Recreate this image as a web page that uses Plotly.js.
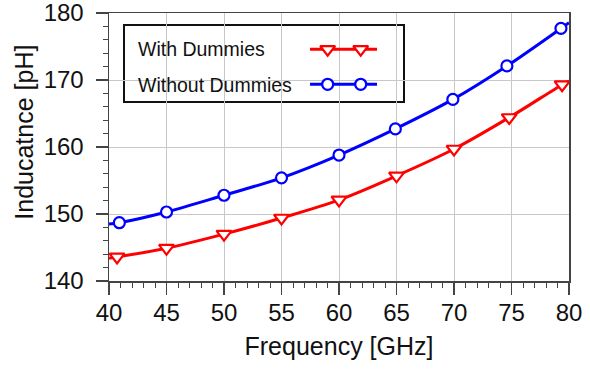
<!DOCTYPE html>
<html>
<head>
<meta charset="utf-8">
<script src="https://cdn.plot.ly/plotly-3.0.1.min.js"></script>
<style>html,body{margin:0;padding:0;background:#fff;}#chart{width:590px;height:370px;}</style>
</head>
<body>
<div id="chart"></div>
<script>
// Curve samples (GHz, pH)
const freqWith = [40, 40.7, 45, 50, 55, 60, 65, 70, 74.8, 79.4, 80];
const indWith = [143.4, 143.6, 144.9, 147.0, 149.4, 152.1, 155.7, 159.7, 164.4, 169.3, 169.85];
const freqWithout = [40, 40.9, 45, 50, 55, 60, 64.9, 69.9, 74.6, 79.3, 80];
const indWithout = [148.5, 148.7, 150.3, 152.8, 155.4, 158.8, 162.7, 167.1, 172.1, 177.7, 178.55];
// Marker positions (subset of the curve samples)
const markFreqWith = [40.7, 45, 50, 55, 60, 65, 70, 74.8, 79.4];
const markIndWith = [143.6, 144.9, 147.0, 149.4, 152.1, 155.7, 159.7, 164.4, 169.3];
const markFreqWithout = [40.9, 45, 50, 55, 60, 64.9, 69.9, 74.6, 79.3];
const markIndWithout = [148.7, 150.3, 152.8, 155.4, 158.8, 162.7, 167.1, 172.1, 177.7];
const seriesNames = ["With Dummies", "Without Dummies"];
const xTickVals = [40, 45, 50, 55, 60, 65, 70, 75, 80];
const yTickVals = [140, 150, 160, 170, 180];

const RED = "#ff0000", BLUE = "#0000ff";
const FONT = "Liberation Sans, Arial, sans-serif";

const traces = [
  {x: freqWith, y: indWith, mode: "lines", line: {color: RED, width: 3, shape: "spline"}, hoverinfo: "skip", showlegend: false},
  {x: markFreqWith, y: markIndWith, mode: "markers", name: seriesNames[0], showlegend: false,
   marker: {symbol: "triangle-down", size: 13, color: "#fff", line: {color: RED, width: 2.2}}},
  {x: freqWithout, y: indWithout, mode: "lines", line: {color: BLUE, width: 3, shape: "spline"}, hoverinfo: "skip", showlegend: false},
  {x: markFreqWithout, y: markIndWithout, mode: "markers", name: seriesNames[1], showlegend: false,
   marker: {symbol: "circle", size: 11, color: "#fff", line: {color: BLUE, width: 2.2}}},
  // legend glyphs on an overlay axis spanning the plot area
  {x: [0.437, 0.5826], y: [0.8646, 0.8646], xaxis: "x2", yaxis: "y2", mode: "lines", line: {color: RED, width: 3}, showlegend: false, hoverinfo: "skip"},
  {x: [0.4754, 0.5472], y: [0.8646, 0.8646], xaxis: "x2", yaxis: "y2", mode: "markers", showlegend: false, hoverinfo: "skip",
   marker: {symbol: "triangle-down", size: 13, color: "#fff", line: {color: RED, width: 2.2}}},
  {x: [0.437, 0.5826], y: [0.734, 0.734], xaxis: "x2", yaxis: "y2", mode: "lines", line: {color: BLUE, width: 3}, showlegend: false, hoverinfo: "skip"},
  {x: [0.4754, 0.5472], y: [0.734, 0.734], xaxis: "x2", yaxis: "y2", mode: "markers", showlegend: false, hoverinfo: "skip",
   marker: {symbol: "circle", size: 11, color: "#fff", line: {color: BLUE, width: 2.2}}}
];

const layout = {
  width: 590, height: 370,
  margin: {l: 109, r: 21, t: 13, b: 89},
  paper_bgcolor: "#fff", plot_bgcolor: "#fff",
  font: {family: FONT, color: "#111", size: 24},
  showlegend: false,
  xaxis: {
    range: [40, 80], tickvals: xTickVals, ticktext: xTickVals.map(String),
    ticks: "outside", ticklen: 12, tickwidth: 1.5, tickcolor: "#444",
    showline: true, linecolor: "#444", linewidth: 1.5, mirror: true,
    showgrid: true, gridcolor: "#c8c8c8", gridwidth: 1, zeroline: false,
    minor: {dtick: 1, tick0: 40, ticks: "outside", ticklen: 5, tickwidth: 1, tickcolor: "#444", showgrid: false},
    tickfont: {size: 24, family: FONT, color: "#111"}, ticklabeloverflow: "allow", ticklabelstandoff: -2,
    title: {text: "Frequency [GHz]", font: {size: 25, family: FONT, color: "#111"}, standoff: 12}
  },
  yaxis: {
    range: [140, 180], tickvals: yTickVals, ticktext: yTickVals.map(String),
    ticks: "outside", ticklen: 12, tickwidth: 1.5, tickcolor: "#444",
    showline: true, linecolor: "#444", linewidth: 1.5, mirror: true,
    showgrid: true, gridcolor: "#c8c8c8", gridwidth: 1, zeroline: false,
    minor: {dtick: 2, tick0: 140, ticks: "outside", ticklen: 5, tickwidth: 1, tickcolor: "#444", showgrid: false},
    tickfont: {size: 24, family: FONT, color: "#111"}, ticklabeloverflow: "allow", ticklabelstandoff: 7
  },
  xaxis2: {overlaying: "x", range: [0, 1], visible: false, fixedrange: true},
  yaxis2: {overlaying: "y", range: [0, 1], visible: false, fixedrange: true},
  shapes: [
    {type: "rect", xref: "paper", yref: "paper", x0: 0.0326, x1: 0.6413, y0: 0.668, y1: 0.955,
     line: {color: "#111", width: 2}, fillcolor: "#fff", layer: "between"}
  ],
  annotations: [
    {text: seriesNames[0], xref: "paper", yref: "paper", x: 0.0587, y: 0.8657, xanchor: "left", yanchor: "middle",
     showarrow: false, font: {size: 19.5, family: FONT, color: "#111"}},
    {text: seriesNames[1], xref: "paper", yref: "paper", x: 0.0587, y: 0.731, xanchor: "left", yanchor: "middle",
     showarrow: false, font: {size: 19.5, family: FONT, color: "#111"}},
    {text: "Inducatnce [pH]", xref: "paper", yref: "paper", x: -0.1854, y: 0.556, xanchor: "center", yanchor: "middle",
     textangle: -90, showarrow: false, font: {size: 25, family: FONT, color: "#111"}}
  ]
};

Plotly.newPlot("chart", traces, layout, {displayModeBar: false, staticPlot: true});
</script>
</body>
</html>
